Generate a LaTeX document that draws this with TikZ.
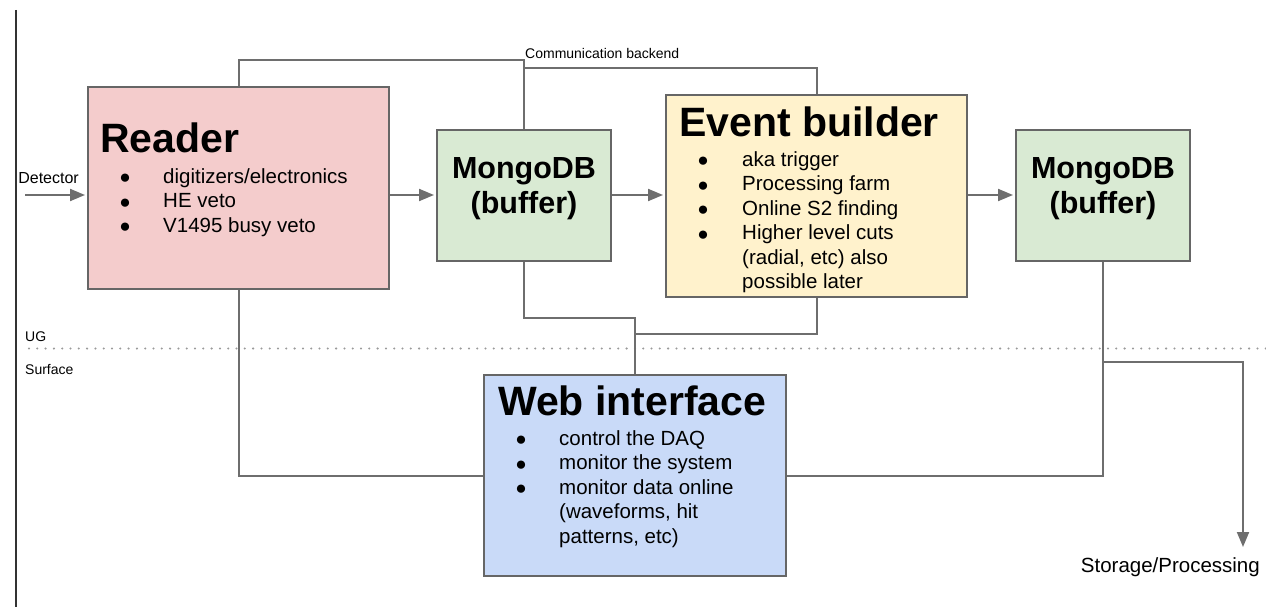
\documentclass[tikz,border=0pt]{standalone}
\usepackage{fontspec}
\setmainfont{Liberation Sans}
\usetikzlibrary{arrows.meta,calc}
\definecolor{pinkfill}{HTML}{F4CCCC}
\definecolor{greenfill}{HTML}{D9EAD3}
\definecolor{yellowfill}{HTML}{FFF2CC}
\definecolor{bluefill}{HTML}{C9DAF8}
\definecolor{edgegray}{HTML}{666666}
\definecolor{linegray}{HTML}{6E6E6E}
\definecolor{dotgray}{HTML}{9A9A9A}
\tikzset{
  box/.style={draw=edgegray, line width=2pt, inner sep=0pt},
  conn/.style={draw=linegray, line width=2pt},
  arr/.style={conn, -{Triangle[length=15pt,width=12pt]}, shorten >=2pt},
  title/.style={anchor=base west, inner sep=0pt, font=\fontsize{41}{45}\selectfont\bfseries},
  mongotxt/.style={anchor=base, inner sep=0pt, font=\fontsize{30.5}{35}\selectfont\bfseries},
  itemtxt/.style={anchor=base west, inner sep=0pt, font=\fontsize{20.5}{24.5}\selectfont},
  bul/.style={anchor=base, inner sep=0pt, yshift=-0.5pt, font=\fontsize{19}{20}\selectfont},
  small/.style={inner sep=0pt, font=\fontsize{14}{16}\selectfont},
}
\begin{document}
\begin{tikzpicture}[x=1pt,y=-1pt]
\useasboundingbox (0,0) rectangle (1266,607);
% boxes
\node[box, fill=pinkfill, minimum width=301pt, minimum height=202pt] (reader) at (238.5,188) {};
\node[box, fill=greenfill, minimum width=174pt, minimum height=131pt] (mongoA) at (524,195.5) {};
\node[box, fill=yellowfill, minimum width=301pt, minimum height=202pt] (eb) at (816.5,196) {};
\node[box, fill=greenfill, minimum width=174pt, minimum height=131pt] (mongoB) at (1103,195.5) {};
\node[box, fill=bluefill, minimum width=302pt, minimum height=201pt] (web) at (635,475.5) {};
% dotted UG/Surface separator
\coordinate (dotL) at (29,348.5);
\coordinate (dotR) at (1266,348.5);
\draw[dotgray, line width=2.3pt, line cap=round, dash pattern=on 0pt off 8.3pt] (dotL) -- (dotR);
% left border line
\coordinate (borderT) at (16,10);
\coordinate (borderB) at (16,607);
% text: Reader
\node[title] (readerT) at (100,153) {Reader};
\node[bul] (rb1) at (125,183) {●};
\node[bul] (rb2) at (125,207.5) {●};
\node[bul] (rb3) at (125,232) {●};
\node[itemtxt] (r1) at (163,183) {digitizers/electronics};
\node[itemtxt] (r2) at (163,207.5) {HE veto};
\node[itemtxt] (r3) at (163,232) {V1495 busy veto};
% MongoDB
\node[mongotxt] (mA1) at (524,178) {MongoDB};
\node[mongotxt] (mA2) at (524,213) {(buffer)};
\node[mongotxt] (mB1) at (1103,178) {MongoDB};
\node[mongotxt] (mB2) at (1103,213) {(buffer)};
% Event builder
\node[title] (ebT) at (679,137) {Event builder};
\node[bul] (eb1) at (703,166) {●};
\node[bul] (eb2) at (703,190.5) {●};
\node[bul] (eb3) at (703,215) {●};
\node[bul] (eb4) at (703,239.5) {●};
\node[itemtxt] (e1) at (742,166) {aka trigger};
\node[itemtxt] (e2) at (742,190.5) {Processing farm};
\node[itemtxt] (e3) at (742,215) {Online S2 finding};
\node[itemtxt] (e4) at (742,239.5) {Higher level cuts};
\node[itemtxt] (e5) at (742,264) {(radial, etc) also};
\node[itemtxt] (e6) at (742,288.5) {possible later};
% Web interface
\node[title] (webT) at (498,415) {Web interface};
\node[bul] (wb1) at (521,445) {●};
\node[bul] (wb2) at (521,469.5) {●};
\node[bul] (wb3) at (521,494) {●};
\node[itemtxt] (w1) at (559,445) {control the DAQ};
\node[itemtxt] (w2) at (559,469.5) {monitor the system};
\node[itemtxt] (w3) at (559,494) {monitor data online};
\node[itemtxt] (w4) at (559,518.5) {(waveforms, hit};
\node[itemtxt] (w5) at (559,543) {patterns, etc)};
% labels
\node[small, anchor=base east, font=\fontsize{16}{18}\selectfont] (det) at (79,183) {Detector};
\node[small, anchor=base west] (comm) at (525,59) {Communication backend};
\node[small, anchor=base west] (ug) at (25,341) {UG};
\node[small, anchor=base west] (surf) at (25,374) {Surface};
\node[itemtxt, anchor=base east] (storage) at (1260,572) {Storage/Processing};
% border line drawn over Detector label
\draw[black!80, line width=1.5pt] (borderT) -- (borderB);
% flow arrows
\coordinate (row) at (0,195);
\coordinate (detIn) at (25,195);
\draw[arr] (detIn) -- (reader.west |- row);
\draw[arr] (reader.east |- row) -- (mongoA.west |- row);
\draw[arr] (mongoA.east |- row) -- (eb.west |- row);
\draw[arr] (eb.east |- row) -- (mongoB.west |- row);
% communication backend
\coordinate (cbL) at (mongoA.north |- 0,60);
\coordinate (cbR) at (mongoA.north |- 0,68);
\draw[conn] (reader.north) |- (cbL) -- (mongoA.north);
\draw[conn] (cbR) -| (eb.north);
% lower connections
\coordinate (jA) at (web.north |- 0,318);
\coordinate (jB) at (web.north |- 0,334);
\draw[conn] (mongoA.south) |- (jA) -- (web.north);
\draw[conn] (eb.south) |- (jB);
\draw[conn] (reader.south) |- (web.west);
\draw[conn] (mongoB.south) |- (web.east);
% storage
\coordinate (sB) at (mongoB.south |- 0,362);
\coordinate (sEnd) at (1243,547);
\draw[conn, -{Triangle[length=15pt,width=12pt]}] (sB) -| (sEnd);
\end{tikzpicture}
\end{document}
